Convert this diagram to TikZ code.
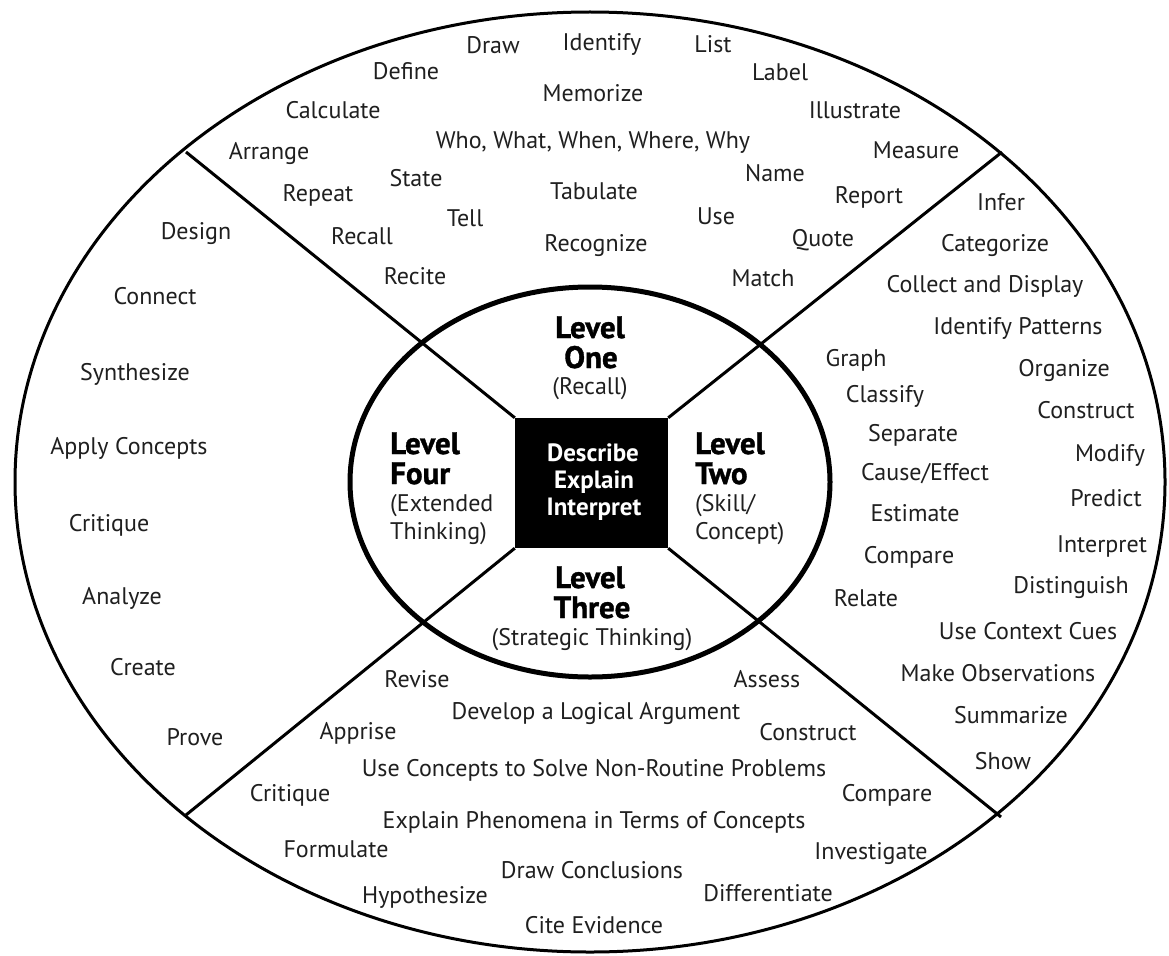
\documentclass[tikz,border=0pt]{standalone}
\usepackage{fontspec}
\setmainfont{PT Sans}
\newfontfamily\heavyfont[BoldFeatures={FakeBold=1.2}]{PT Sans}
\begin{document}
\begin{tikzpicture}[x=1pt,y=-1pt,
  word/.style={font=\fontsize{24}{26}\selectfont, inner sep=0pt, text height=16pt, text depth=4pt, text=black!88},
  lvl/.style={font=\fontsize{31}{32}\heavyfont\bfseries, inner sep=0pt, text height=22pt, text depth=0pt},
  sub/.style={font=\fontsize{24}{26}\selectfont, inner sep=0pt, text height=16pt, text depth=4pt, text=black!88},
  ctr/.style={font=\fontsize{25}{27}\selectfont\bfseries, inner sep=0pt, text=white, text height=17pt, text depth=4pt},
  divider/.style={line width=3pt},
  outerring/.style={line width=3pt},
  innerring/.style={line width=5pt}]
\useasboundingbox[fill=white] (0,0) rectangle (1169,955);

% outer ellipse
\draw[outerring] (590,482) ellipse [x radius=575pt, y radius=470pt];

% central square
\node[fill=black, minimum width=153pt, minimum height=130pt, inner sep=0pt] (sq) at (591.5,483) {};

% divider end points on the outer ellipse
\coordinate (ul) at (186,152);
\coordinate (ur) at (1002,152);
\coordinate (ll) at (186,815);
\coordinate (lr) at (1001,817);
\draw[divider] (ul) -- (sq.north west);
\draw[divider] (ur) -- (sq.north east);
\draw[divider] (ll) -- (sq.south west);
\draw[divider] (lr) -- (sq.south east);

% inner ellipse
\draw[innerring] (590,482) ellipse [x radius=240pt, y radius=195pt];

% centre text
\node[ctr] (c1) at (593,455) {Describe};
\node[ctr] (c2) at (594,482) {Explain};
\node[ctr] (c3) at (594,509) {Interpret};

% level labels
\node[lvl] (l1a) at (590,327) {Level};
\node[lvl] (l1b) at (591,357) {One};
\node[sub] (l1c) at (590,388) {(Recall)};

\node[lvl, anchor=west] (l4a) at (390,443) {Level};
\node[lvl, anchor=west] (l4b) at (390,473) {Four};
\node[sub, anchor=west] (l4c) at (390,505) {(Extended};
\node[sub, anchor=west] (l4d) at (390,533) {Thinking)};

\node[lvl, anchor=west] (l2a) at (695,443) {Level};
\node[lvl, anchor=west] (l2b) at (695,473) {Two};
\node[sub, anchor=west] (l2c) at (695,505) {(Skill/};
\node[sub, anchor=west] (l2d) at (695,533) {Concept)};

\node[lvl] (l3a) at (590,577) {Level};
\node[lvl] (l3b) at (592,607) {Three};
\node[sub] (l3c) at (592,639) {(Strategic Thinking)};

% Level one words
\node[word] (a1) at (493,48) {Draw};
\node[word] (a2) at (602,45) {Identify};
\node[word] (a3) at (713,47) {List};
\node[word] (a4) at (406,74) {Define};
\node[word] (a5) at (780,75) {Label};
\node[word] (a6) at (593,96) {Memorize};
\node[word] (a7) at (333,113) {Calculate};
\node[word] (a8) at (855,113) {Illustrate};
\node[word] (a9) at (593,142) {Who, What, When, Where, Why};
\node[word] (a10) at (269,153) {Arrange};
\node[word] (a11) at (916,152) {Measure};
\node[word] (a12) at (416,180) {State};
\node[word] (a13) at (775,175) {Name};
\node[word] (a14) at (318,195) {Repeat};
\node[word] (a15) at (594,193) {Tabulate};
\node[word] (a16) at (869,197) {Report};
\node[word] (a17) at (465,220) {Tell};
\node[word] (a18) at (716,218) {Use};
\node[word] (a19) at (362,238) {Recall};
\node[word] (a20) at (596,245) {Recognize};
\node[word] (a21) at (823,240) {Quote};
\node[word] (a22) at (415,278) {Recite};
\node[word] (a23) at (763,280) {Match};

% Level two words
\node[word] (b1) at (1001,204) {Infer};
\node[word] (b2) at (995,245) {Categorize};
\node[word] (b3) at (985,286) {Collect and Display};
\node[word] (b4) at (1018,328) {Identify Patterns};
\node[word] (b5) at (856,360) {Graph};
\node[word] (b6) at (1064,370) {Organize};
\node[word] (b7) at (885,396) {Classify};
\node[word] (b8) at (1086,412) {Construct};
\node[word] (b9) at (913,435) {Separate};
\node[word] (b10) at (1110,455) {Modify};
\node[word] (b11) at (925,474) {Cause/Effect};
\node[word] (b12) at (1106,500) {Predict};
\node[word] (b13) at (915,515) {Estimate};
\node[word] (b14) at (1102,546) {Interpret};
\node[word] (b15) at (909,557) {Compare};
\node[word] (b16) at (1071,587) {Distinguish};
\node[word] (b17) at (866,600) {Relate};
\node[word] (b18) at (1028,633) {Use Context Cues};
\node[word] (b19) at (998,675) {Make Observations};
\node[word] (b20) at (1011,717) {Summarize};
\node[word] (b21) at (1003,763) {Show};

% Level three words
\node[word] (c4) at (417,681) {Revise};
\node[word] (c5) at (767,681) {Assess};
\node[word] (c6) at (596,713) {Develop a Logical Argument};
\node[word] (c7) at (358,733) {Apprise};
\node[word] (c8) at (808,734) {Construct};
\node[word] (c9) at (594,770) {Use Concepts to Solve Non-Routine Problems};
\node[word] (c10) at (290,795) {Critique};
\node[word] (c11) at (887,795) {Compare};
\node[word] (c12) at (594,822) {Explain Phenomena in Terms of Concepts};
\node[word] (c13) at (336,851) {Formulate};
\node[word] (c14) at (871,853) {Investigate};
\node[word] (c15) at (592,872) {Draw Conclusions};
\node[word] (c16) at (425,897) {Hypothesize};
\node[word] (c17) at (768,895) {Differentiate};
\node[word] (c18) at (594,927) {Cite Evidence};

% Level four words
\node[word] (d1) at (196,233) {Design};
\node[word] (d2) at (155,298) {Connect};
\node[word] (d3) at (135,374) {Synthesize};
\node[word] (d4) at (129,448) {Apply Concepts};
\node[word] (d5) at (109,525) {Critique};
\node[word] (d6) at (122,598) {Analyze};
\node[word] (d7) at (143,669) {Create};
\node[word] (d8) at (195,739) {Prove};
\end{tikzpicture}
\end{document}
